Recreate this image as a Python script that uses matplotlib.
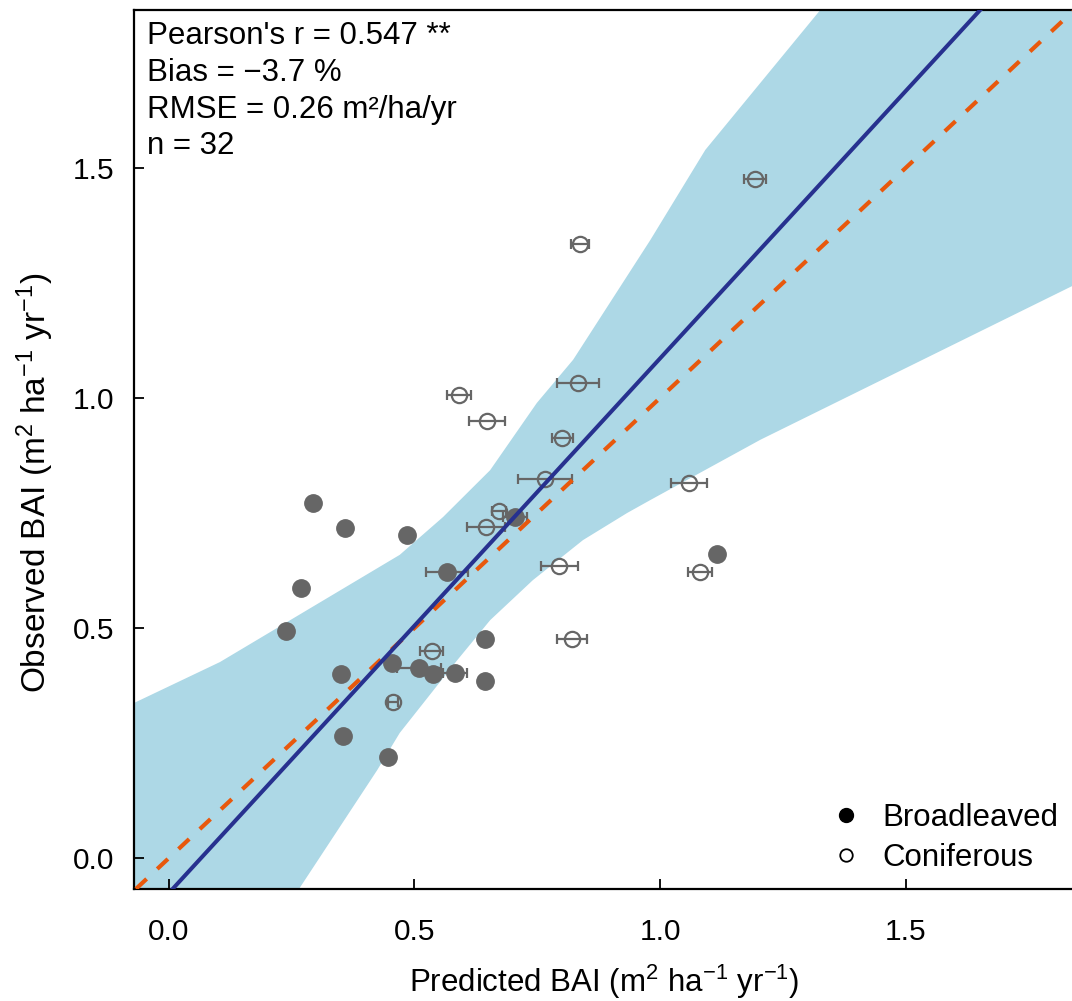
import matplotlib.pyplot as plt
import numpy as np
from matplotlib.lines import Line2D

plt.rcParams['font.family'] = ['Liberation Sans', 'DejaVu Sans']
plt.rcParams['mathtext.fontset'] = 'custom'
plt.rcParams['mathtext.rm'] = 'Liberation Sans'
plt.rcParams['mathtext.it'] = 'Liberation Sans:italic'

# broadleaved sites (filled)
broad_pred = [0.293, 0.358, 0.485, 0.269, 0.238, 0.350, 0.354, 0.446, 0.566,
              0.454, 0.509, 0.538, 0.582, 0.644, 0.644, 0.705, 1.116]
broad_obs = [0.772, 0.717, 0.702, 0.587, 0.493, 0.400, 0.265, 0.220, 0.622,
             0.424, 0.413, 0.400, 0.402, 0.476, 0.385, 0.741, 0.661]
broad_err = [0.01, 0.01, 0.01, 0.01, 0.01, 0.01, 0.01, 0.01, 0.042,
             0.01, 0.045, 0.01, 0.024, 0.01, 0.01, 0.024, 0.01]

# coniferous sites (open)
con_pred = [0.833, 0.591, 0.647, 0.801, 0.766, 1.059, 0.672, 0.646,
            0.795, 1.081, 0.821, 0.535, 0.456, 1.193, 0.837]
con_obs = [1.033, 1.007, 0.950, 0.913, 0.824, 0.815, 0.754, 0.720,
           0.635, 0.622, 0.476, 0.450, 0.339, 1.476, 1.335]
con_err = [0.043, 0.024, 0.037, 0.022, 0.055, 0.036, 0.015, 0.039,
           0.037, 0.025, 0.031, 0.024, 0.01, 0.023, 0.018]

# fitted line and its band
fit_intercept = -0.076
fit_slope = 1.162
band_up_x = [-0.071, 0.104, 0.470, 0.558, 0.654, 0.749, 0.823, 0.980, 1.092, 1.326, 1.85]
band_up_y = [0.337, 0.426, 0.659, 0.741, 0.843, 0.989, 1.083, 1.343, 1.539, 1.843, 2.52]
band_lo_x = [-0.071, 0.265, 0.424, 0.470, 0.587, 0.654, 0.741, 0.843, 0.933, 0.980, 1.204, 1.85]
band_lo_y = [-0.61, -0.067, 0.191, 0.272, 0.430, 0.517, 0.604, 0.691, 0.750, 0.778, 0.909, 1.249]

stats_lines = ["Pearson's r = 0.547 **", "Bias = \u22123.7 %",
               "RMSE = 0.26 m\u00b2/ha/yr", "n = 32"]

fig = plt.figure(figsize=(10.72, 10.01), dpi=100)
ax = fig.add_axes([0.125, 0.112, 0.878, 0.878])

poly_x = np.concatenate([band_up_x, band_lo_x[::-1]])
poly_y = np.concatenate([band_up_y, band_lo_y[::-1]])
ax.fill(poly_x, poly_y, color='#ADD8E6', lw=0, zorder=1)

grey = '#666666'
ax.errorbar(broad_pred, broad_obs, xerr=broad_err, fmt='o', color=grey, ms=12.5,
            mec=grey, mfc=grey, elinewidth=1.6, capsize=3.5, capthick=1.6, zorder=3)
ax.errorbar(con_pred, con_obs, xerr=con_err, fmt='o', color=grey, ms=11,
            mec=grey, mfc='none', mew=1.6, elinewidth=1.6, capsize=3.5, capthick=1.6,
            zorder=3)

ax.axline((0, 0), slope=1, color='#E8580C', lw=3, dashes=(3.5, 3.5), zorder=4)
ax.axline((0, fit_intercept), slope=fit_slope, color='#27318F', lw=2.9, zorder=5)

ax.set_xlim(-0.071, 1.845)
ax.set_ylim(-0.067, 1.843)
ax.set_xticks([0.0, 0.5, 1.0, 1.5])
ax.set_yticks([0.0, 0.5, 1.0, 1.5])
ax.set_xticklabels(['0.0', '0.5', '1.0', '1.5'])
ax.set_yticklabels(['0.0', '0.5', '1.0', '1.5'])
ax.tick_params(direction='in', length=7, width=1.3, labelsize=21.5, pad=21)
ax.tick_params(axis='y', pad=14)
for s in ax.spines.values():
    s.set_linewidth(1.6)

ax.set_xlabel(r'Predicted BAI (m$^{2}$ ha$^{-1}$ yr$^{-1}$)', fontsize=22.5, labelpad=12)
ax.set_ylabel(r'Observed BAI (m$^{2}$ ha$^{-1}$ yr$^{-1}$)', fontsize=24)
ax.yaxis.set_label_coords(-0.083, 0.462)

ax.text(0.014, 0.987, '\n'.join(stats_lines), transform=ax.transAxes, fontsize=22.5,
        va='top', ha='left', linespacing=1.29, zorder=6)

handles = [Line2D([], [], ls='none', marker='o', ms=10, color='black', mfc='black'),
           Line2D([], [], ls='none', marker='o', ms=9, color='black', mfc='none', mew=1.3)]
ax.legend(handles, ['Broadleaved', 'Coniferous'], loc='lower right', frameon=False,
          fontsize=22.5, handlelength=0.8, handletextpad=0.75, labelspacing=0.33,
          bbox_to_anchor=(1.005, -0.007), borderaxespad=0.3)

fig.savefig('out.png', dpi=100)
